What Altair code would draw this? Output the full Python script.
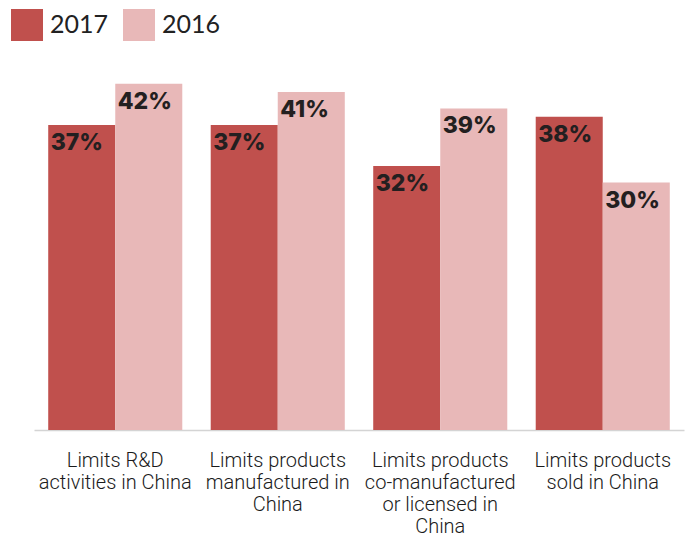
import altair as alt
import pandas as pd

categories = [
    "Limits R&D|activities in China",
    "Limits products|manufactured in|China",
    "Limits products|co-manufactured|or licensed in|China",
    "Limits products|sold in China",
]
years = ["2017", "2016"]
values_2017 = [37, 37, 32, 38]
values_2016 = [42, 41, 39, 30]
colors = ["#c0504d", "#e8b8b8"]

rows = []
for c, v17, v16 in zip(categories, values_2017, values_2016):
    rows.append({"category": c, "year": "2017", "value": v17, "label": f"{v17}%"})
    rows.append({"category": c, "year": "2016", "value": v16, "label": f"{v16}%"})
df = pd.DataFrame(rows)

base = alt.Chart(df).encode(
    x=alt.X(
        "category:N",
        sort=categories,
        title=None,
        scale=alt.Scale(paddingInner=0.175, paddingOuter=0.0875),
        axis=alt.Axis(
            labelExpr="split(datum.value, '|')",
            labelAngle=0,
            labelFont="Roboto",
            labelFontSize=20,
            labelFontWeight=300,
            labelColor="#1a1a1a",
            labelLineHeight=22,
            labelPadding=20,
            labelBaseline="top",
            ticks=False,
            tickSize=0,
            domainColor="#d4d4d4",
            domainWidth=1.5,
            grid=False,
            labelLimit=300,
        ),
    ),
    xOffset=alt.XOffset("year:N", sort=years),
    y=alt.Y("value:Q", axis=None, scale=alt.Scale(domain=[0, 42.2], nice=False, zero=True)),
)

bars = base.mark_bar().encode(
    color=alt.Color(
        "year:N",
        sort=years,
        scale=alt.Scale(domain=years, range=colors),
        legend=alt.Legend(
            orient="none",
            legendX=-23,
            legendY=-73,
            direction="horizontal",
            title=None,
            symbolType="square",
            symbolSize=1024,
            symbolStrokeWidth=0,
            labelFont="Lato",
            labelFontSize=25,
            labelColor="#222222",
            labelOffset=7,
            columnPadding=14,
        ),
    )
)

text = base.mark_text(
    align="left",
    baseline="alphabetic",
    dx=-31,
    dy=25,
    font="Inter",
    fontSize=23,
    fontWeight=800,
    color="#231f20",
).encode(text="label:N")

chart = (
    alt.layer(bars, text)
    .properties(
        width=650,
        height=348,
        autosize=alt.AutoSizeParams(type="none"),
        padding={"left": 26, "top": 74, "right": 7, "bottom": 110},
    )
    .configure_view(stroke=None)
)

chart.save("out.html", embed_options={"renderer": "svg", "actions": False})
